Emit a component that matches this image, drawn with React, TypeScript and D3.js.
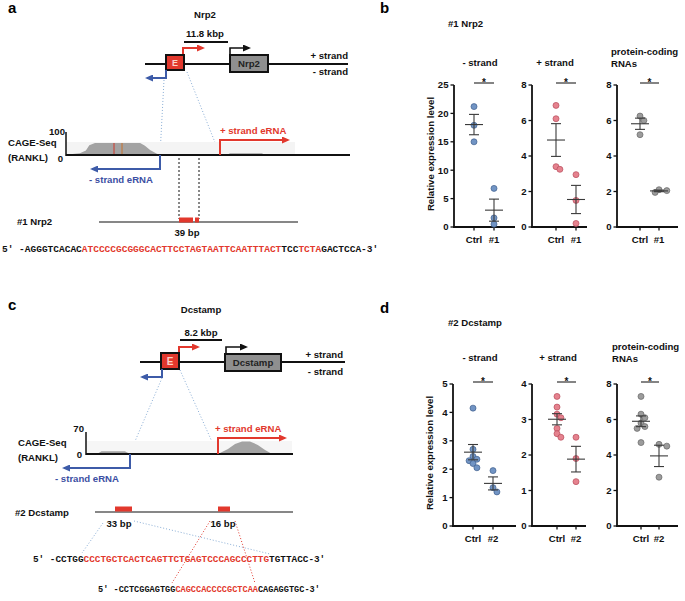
import React from "react";
import * as d3 from "d3";

const FONT = "'Liberation Sans', Arial, Helvetica, sans-serif";
const MONO = "'Liberation Mono', 'Courier New', monospace";
const RED = "#e2382d";
const BLUE = "#3d5ba8";
const LBL_BLUE = "#3b4fa3";
const DOT_BLUE = "#8aaed6";

// ---------- data: panel b (#1 Nrp2) ----------
const groupsB = ["Ctrl", "#1"];
const bMinusCtrl = [21.2, 17.9, 15.0];
const bMinusKO = [6.8, 1.6, 0.5];
const bPlusCtrl = [6.85, 6.1, 3.4, 3.25];
const bPlusKO = [2.95, 1.5, 0.2];
const bPcCtrl = [6.25, 6.0, 5.2];
const bPcKO = [2.1, 2.05, 1.95];

// ---------- data: panel d (#2 Dcstamp) ----------
const groupsD = ["Ctrl", "#2"];
const dMinusCtrl = [4.15, 2.7, 2.45, 2.35, 2.3, 2.2, 2.05];
const dMinusKO = [1.95, 1.35, 1.2];
const dPlusCtrl = [3.65, 3.35, 3.15, 3.05, 2.75, 2.6, 2.5];
const dPlusKO = [2.5, 1.9, 1.25];
const dPcCtrl = [7.3, 6.3, 6.1, 5.8, 5.6, 5.5, 4.7];
const dPcKO = [4.6, 4.5, 2.75];

// ---------- tick labels ----------
const ticks25 = [0, 5, 10, 15, 20, 25];
const ticks8 = [0, 2, 4, 6, 8];
const ticks5 = [0, 1, 2, 3, 4, 5];
const ticks4 = [0, 1, 2, 3, 4];

// ---------- CAGE-Seq coverage (position along track 0-100, signal) ----------
const cageA_left: [number, number][] = [
  [2.1, 0], [2.3, 4], [4.9, 8], [7.0, 20], [8.2, 42], [10.2, 52], [26.1, 52],
  [27.8, 40], [29.6, 22], [32.0, 5], [33.1, 0],
];
const cageA_right: [number, number][] = [
  [56.7, 0], [57.7, 8], [69.0, 8], [70.0, 0],
];
const cageC_left: [number, number][] = [
  [5.3, 0], [7.5, 9], [18.8, 9], [21.3, 0],
];
const cageC_right: [number, number][] = [
  [63.8, 0], [65.7, 6], [68.6, 16], [72.0, 32], [75.4, 40], [79.2, 40],
  [83.0, 29], [86.5, 13], [89.9, 0],
];

// ---------- sequences ----------
const seqA = [
  { t: "5\u2032 -AGGGTCACAC", red: false },
  { t: "ATCCCCGCGGGCACTTCCTAGTAATTCAATTTACT", red: true },
  { t: "TCC", red: false },
  { t: "TCTA", red: true },
  { t: "GACTCCA-3\u2032", red: false },
];
const seqC1 = [
  { t: "5\u2032 -CCTGG", red: false },
  { t: "CCCTGCTCACTCAGTTCTGAGTCCCAGCCCTTG", red: true },
  { t: "TGTTACC-3\u2032", red: false },
];
const seqC2 = [
  { t: "5\u2032 -CCTCGGAGTGG", red: false },
  { t: "CAGCCACCCCGCTCAA", red: true },
  { t: "CAGAGGTGC-3\u2032", red: false },
];

function Seq({ parts, x, y, cw }: { parts: { t: string; red: boolean }[]; x: number; y: number; cw: number }) {
  const out: any[] = [];
  let idx = 0;
  parts.forEach((p, i) => {
    Array.from(p.t).forEach((ch, j) => {
      out.push(
        <text key={`${i}-${j}`} x={x + (idx + 0.5) * cw} y={y} textAnchor="middle"
          fontFamily={MONO} fontWeight="bold" fontSize={cw / 0.6} fill={p.red ? RED : "#111"}>
          {ch}
        </text>
      );
      idx++;
    });
  });
  return <g>{out}</g>;
}

function dodge(vals: number[], y: (v: number) => number, r: number) {
  const placed: { v: number; dx: number; py: number }[] = [];
  const sorted = [...vals].sort((a, b) => b - a);
  for (const v of sorted) {
    const py = y(v);
    let dx = 0;
    for (const k of [0, 1, -1, 2, -2]) {
      const ox = k * r * 1.3;
      if (placed.every((p) => Math.hypot(p.dx - ox, p.py - py) >= r * 1.5)) { dx = ox; break; }
    }
    placed.push({ v, dx, py });
  }
  return placed;
}

type SubProps = {
  groups: string[]; ctrl: number[]; ko: number[]; ticks: number[];
  axisX: number; ctrlX: number; koX: number; endX: number; y0: number; yTop: number;
  fill: string; stroke: string; title: string[]; titleX: number; titleY: number; anchor: string;
  yLabel?: boolean;
};

function Sub(p: SubProps) {
  const yMax = p.ticks[p.ticks.length - 1];
  const y = d3.scaleLinear().domain([0, yMax]).range([p.y0, p.yTop]);
  const x = d3.scalePoint<string>().domain(p.groups).range([p.ctrlX, p.koX]);
  const series = [p.ctrl, p.ko];
  const r = 3;
  return (
    <g fontFamily={FONT} fontWeight="bold">
      {p.title.map((t, i) => (
        <text key={i} x={p.titleX} y={p.titleY + i * 11.5} textAnchor={p.anchor as any} fontSize={9.6} fill="#111">{t}</text>
      ))}
      {/* significance */}
      <line x1={x(p.groups[0])} x2={x(p.groups[1])} y1={p.yTop - 2} y2={p.yTop - 2} stroke="#777" strokeWidth={1.8} />
      <text x={(x(p.groups[0])! + x(p.groups[1])!) / 2} y={p.yTop + 1} textAnchor="middle" fontSize={10} fill="#111">*</text>
      {/* axes */}
      <line x1={p.axisX} x2={p.axisX} y1={p.yTop} y2={p.y0 + 1} stroke="#111" strokeWidth={1.8} />
      <line x1={p.axisX - 1} x2={p.endX} y1={p.y0} y2={p.y0} stroke="#111" strokeWidth={1.8} />
      {p.ticks.map((t) => (
        <g key={t}>
          <line x1={p.axisX - 3.5} x2={p.axisX} y1={y(t)} y2={y(t)} stroke="#111" strokeWidth={1.3} />
          <text x={p.axisX - 5.5} y={y(t) + 3.4} textAnchor="end" fontSize={9.6} fill="#111">{t}</text>
        </g>
      ))}
      {p.groups.map((g) => (
        <g key={g}>
          <line x1={x(g)} x2={x(g)} y1={p.y0} y2={p.y0 + 3.5} stroke="#111" strokeWidth={1.3} />
          <text x={x(g)} y={p.y0 + 16} textAnchor="middle" fontSize={9.6} fill="#111">{g}</text>
        </g>
      ))}
      {p.yLabel && (
        <text transform={`translate(${p.axisX - 20},${(p.y0 + p.yTop) / 2 - 2}) rotate(-90)`} textAnchor="middle" fontSize={9.6} fill="#111">
          Relative expression level
        </text>
      )}
      {series.map((vals, gi) => {
        const cx = x(p.groups[gi])!;
        const m = d3.mean(vals)!;
        const sem = d3.deviation(vals)! / Math.sqrt(vals.length);
        const pts = dodge(vals, y, r);
        return (
          <g key={gi}>
            {pts.map((pt, i) => (
              <circle key={i} cx={cx + pt.dx} cy={pt.py} r={r} fill={p.fill} stroke={p.stroke} strokeWidth={0.7} />
            ))}
            <line x1={cx - 9} x2={cx + 9} y1={y(m)} y2={y(m)} stroke="#3a3a3a" strokeWidth={1.1} />
            <line x1={cx} x2={cx} y1={y(m + sem)} y2={y(m - sem)} stroke="#3a3a3a" strokeWidth={1.1} />
            <line x1={cx - 5} x2={cx + 5} y1={y(m + sem)} y2={y(m + sem)} stroke="#3a3a3a" strokeWidth={1.1} />
            <line x1={cx - 5} x2={cx + 5} y1={y(m - sem)} y2={y(m - sem)} stroke="#3a3a3a" strokeWidth={1.1} />
          </g>
        );
      })}
    </g>
  );
}

function Track({ left, right, x0, x1, base, top, vmax, series }: any) {
  const x = d3.scaleLinear().domain([0, 100]).range([x0, x1]);
  const y = d3.scaleLinear().domain([0, vmax]).range([base, top]);
  const area = d3.area<[number, number]>().x((d) => x(d[0])).y0(base).y1((d) => y(d[1]));
  return (
    <g>
      {series.map((s: [number, number][], i: number) => (
        <path key={i} d={area(s)!} fill="#a3a3a3" />
      ))}
    </g>
  );
}

const B = (props: any) => <text fontFamily={FONT} fontWeight="bold" fontSize={9.6} fill="#111" {...props} />;

export default function App() {
  const mk = (id: string, color: string) => (
    <marker id={id} markerUnits="userSpaceOnUse" markerWidth={8} markerHeight={7} refX={6} refY={3.5} orient="auto">
      <path d="M0,0 L8,3.5 L0,7 z" fill={color} />
    </marker>
  );
  return (
    <svg width={685} height={601} style={{ position: "absolute", left: 0, top: 0, background: "#fff" }}>
      <defs>
        {mk("ar", RED)}
        {mk("ab", BLUE)}
        {mk("ak", "#111")}
      </defs>
      <rect width={685} height={601} fill="#fff" />

      {/* ================= Panel a ================= */}
      <text x={8} y={13} fontFamily={FONT} fontWeight="bold" fontSize={15}>a</text>
      <B x={205} y={18} textAnchor="middle">Nrp2</B>
      <B x={205} y={37} textAnchor="middle">11.8 kbp</B>
      <line x1={184} x2={228} y1={42} y2={42} stroke="#111" strokeWidth={2} />
      <path d="M183,55 V48 H203" fill="none" stroke={RED} strokeWidth={2} markerEnd="url(#ar)" />
      <path d="M230,55 V48 H249" fill="none" stroke="#111" strokeWidth={1.6} markerEnd="url(#ak)" />
      <line x1={145} x2={348} y1={64} y2={64} stroke="#111" strokeWidth={2} />
      <rect x={166} y={55} width={18} height={15} fill={RED} stroke="#111" strokeWidth={2} />
      <text x={175} y={66} textAnchor="middle" fontFamily={FONT} fontWeight="bold" fontSize={9} fill="#fbd3c8">E</text>
      <rect x={230} y={55} width={38} height={17} fill="#8f8f8f" stroke="#111" strokeWidth={2} />
      <B x={249} y={67} textAnchor="middle" fill="#222">Nrp2</B>
      <path d="M166,70 V78 H147" fill="none" stroke={BLUE} strokeWidth={2} markerEnd="url(#ab)" />
      <B x={348} y={59} textAnchor="end">+ strand</B>
      <B x={348} y={75} textAnchor="end">- strand</B>
      <line x1={164} y1={80} x2={160} y2={155} stroke={DOT_BLUE} strokeWidth={1} strokeDasharray="1,2" />
      <line x1={187} y1={72} x2={220} y2={155} stroke={DOT_BLUE} strokeWidth={1} strokeDasharray="1,2" />

      <rect x={66} y={142} width={229} height={13} fill="#f4f4f4" />
      <Track x0={66} x1={350} base={155} top={132} vmax={100} series={[cageA_left, cageA_right]} />
      <line x1={114} x2={114} y1={143} y2={155} stroke="#d0392b" strokeWidth={1} />
      <line x1={122} x2={122} y1={143} y2={155} stroke="#c8702a" strokeWidth={1} />
      <line x1={66} x2={66} y1={132} y2={156} stroke="#111" strokeWidth={1.5} />
      <line x1={66} x2={350} y1={155} y2={155} stroke="#111" strokeWidth={2} />
      <B x={65} y={135} textAnchor="end">100</B>
      <B x={63} y={162} textAnchor="end">0</B>
      <B x={8} y={146}>CAGE-Seq</B>
      <B x={8} y={161}>(RANKL)</B>
      <path d="M220,155 V140 H288" fill="none" stroke={RED} strokeWidth={2} markerEnd="url(#ar)" />
      <B x={220} y={134} fill={RED}>+ strand eRNA</B>
      <path d="M160,155 V169 H92" fill="none" stroke={BLUE} strokeWidth={2} markerEnd="url(#ab)" />
      <B x={89} y={183} fill={LBL_BLUE}>- strand eRNA</B>
      <line x1={179} x2={179} y1={158} y2={219} stroke="#111" strokeWidth={1} strokeDasharray="2,2" />
      <line x1={199} x2={199} y1={158} y2={219} stroke="#111" strokeWidth={1} strokeDasharray="2,2" />
      <B x={17} y={225}>#1 Nrp2</B>
      <line x1={99} x2={298} y1={222} y2={222} stroke="#111" strokeWidth={1.2} />
      <rect x={179} y={217.5} width={14} height={5} fill={RED} />
      <rect x={195} y={217.5} width={4} height={5} fill={RED} />
      <B x={187} y={236} textAnchor="middle">39 bp</B>
      <Seq parts={seqA} x={2} y={252} cw={5.7} />

      {/* ================= Panel c ================= */}
      <text x={8} y={310} fontFamily={FONT} fontWeight="bold" fontSize={15}>c</text>
      <B x={201} y={313} textAnchor="middle">Dcstamp</B>
      <B x={201} y={336} textAnchor="middle">8.2 kbp</B>
      <line x1={180} x2={222} y1={340} y2={340} stroke="#111" strokeWidth={2} />
      <path d="M179,353 V347 H198" fill="none" stroke={RED} strokeWidth={2} markerEnd="url(#ar)" />
      <path d="M226,354 V347 H246" fill="none" stroke="#111" strokeWidth={1.6} markerEnd="url(#ak)" />
      <line x1={140} x2={345} y1={362} y2={362} stroke="#111" strokeWidth={2} />
      <rect x={161} y={353} width={18} height={16} fill={RED} stroke="#111" strokeWidth={2} />
      <text x={170} y={365} textAnchor="middle" fontFamily={FONT} fontWeight="bold" fontSize={10} fill="#fbd3c8">E</text>
      <rect x={225} y={354} width={56} height={17} fill="#8f8f8f" stroke="#111" strokeWidth={2} />
      <B x={253} y={366} textAnchor="middle" fill="#222">Dcstamp</B>
      <path d="M162,369 V377 H142" fill="none" stroke={BLUE} strokeWidth={2} markerEnd="url(#ab)" />
      <B x={343} y={358} textAnchor="end">+ strand</B>
      <B x={343} y={375} textAnchor="end">- strand</B>
      <line x1={162} y1={378} x2={130} y2={453} stroke={DOT_BLUE} strokeWidth={1} strokeDasharray="1,2" />
      <line x1={180} y1={370} x2={217} y2={453} stroke={DOT_BLUE} strokeWidth={1} strokeDasharray="1,2" />

      <rect x={86} y={441} width={206} height={13} fill="#f6f6f6" />
      <Track x0={86} x1={293} base={454} top={432} vmax={70} series={[cageC_left, cageC_right]} />
      <line x1={86} x2={86} y1={432} y2={455} stroke="#111" strokeWidth={1.5} />
      <line x1={86} x2={293} y1={454} y2={454} stroke="#111" strokeWidth={2} />
      <B x={84} y={432} textAnchor="end">70</B>
      <B x={82} y={458} textAnchor="end">0</B>
      <B x={18} y={446}>CAGE-Seq</B>
      <B x={18} y={461}>(RANKL)</B>
      <path d="M218,454 V438 H285" fill="none" stroke={RED} strokeWidth={2} markerEnd="url(#ar)" />
      <B x={215} y={432} fill={RED}>+ strand eRNA</B>
      <path d="M130,454 V468 H64" fill="none" stroke={BLUE} strokeWidth={2} markerEnd="url(#ab)" />
      <B x={55} y={482} fill={LBL_BLUE}>- strand eRNA</B>
      <B x={15} y={516}>#2 Dcstamp</B>
      <line x1={95} x2={293} y1={512} y2={512} stroke="#111" strokeWidth={1.2} />
      <rect x={115} y={506.5} width={17} height={5} fill={RED} />
      <rect x={218} y={506.5} width={12} height={5} fill={RED} />
      <B x={119} y={527} textAnchor="middle">33 bp</B>
      <B x={223} y={527} textAnchor="middle">16 bp</B>
      <line x1={103} y1={523} x2={82} y2={553} stroke={DOT_BLUE} strokeWidth={1} strokeDasharray="1,2" />
      <line x1={134} y1={521} x2={270} y2={554} stroke={DOT_BLUE} strokeWidth={1} strokeDasharray="1,2" />
      <line x1={210} y1={521} x2={172} y2={583} stroke={RED} strokeWidth={1} strokeDasharray="1,2" />
      <line x1={235} y1={521} x2={255} y2={583} stroke={RED} strokeWidth={1} strokeDasharray="1,2" />
      <Seq parts={seqC1} x={33} y={562} cw={5.62} />
      <Seq parts={seqC2} x={98} y={592} cw={5.16} />

      {/* ================= Panel b ================= */}
      <text x={380} y={13} fontFamily={FONT} fontWeight="bold" fontSize={15}>b</text>
      <B x={448} y={27}>#1 Nrp2</B>
      <Sub groups={groupsB} ctrl={bMinusCtrl} ko={bMinusKO} ticks={ticks25} axisX={454} ctrlX={474} koX={494} endX={515}
        y0={227} yTop={85} fill="#7194c4" stroke="#3f5f8c" title={["- strand"]} titleX={480} titleY={66} anchor="middle" yLabel />
      <Sub groups={groupsB} ctrl={bPlusCtrl} ko={bPlusKO} ticks={ticks8} axisX={532} ctrlX={556} koX={576} endX={587}
        y0={227} yTop={85} fill="#e5828e" stroke="#b84a5a" title={["+ strand"]} titleX={555} titleY={66} anchor="middle" />
      <Sub groups={groupsB} ctrl={bPcCtrl} ko={bPcKO} ticks={ticks8} axisX={617} ctrlX={640} koX={659} endX={678}
        y0={227} yTop={85} fill="#9c9c9c" stroke="#666" title={["protein-coding", "RNAs"]} titleX={611} titleY={55} anchor="start" />

      {/* ================= Panel d ================= */}
      <text x={380} y={313} fontFamily={FONT} fontWeight="bold" fontSize={15}>d</text>
      <B x={448} y={326}>#2 Dcstamp</B>
      <Sub groups={groupsD} ctrl={dMinusCtrl} ko={dMinusKO} ticks={ticks5} axisX={453} ctrlX={473} koX={493} endX={516}
        y0={526} yTop={384} fill="#7194c4" stroke="#3f5f8c" title={["- strand"]} titleX={480} titleY={361} anchor="middle" yLabel />
      <Sub groups={groupsD} ctrl={dPlusCtrl} ko={dPlusKO} ticks={ticks4} axisX={532} ctrlX={557} koX={576} endX={586}
        y0={526} yTop={384} fill="#e5828e" stroke="#b84a5a" title={["+ strand"]} titleX={558} titleY={361} anchor="middle" />
      <Sub groups={groupsD} ctrl={dPcCtrl} ko={dPcKO} ticks={ticks8} axisX={617} ctrlX={641} koX={659} endX={678}
        y0={526} yTop={384} fill="#9c9c9c" stroke="#666" title={["protein-coding", "RNAs"]} titleX={612} titleY={350} anchor="start" />
    </svg>
  );
}
